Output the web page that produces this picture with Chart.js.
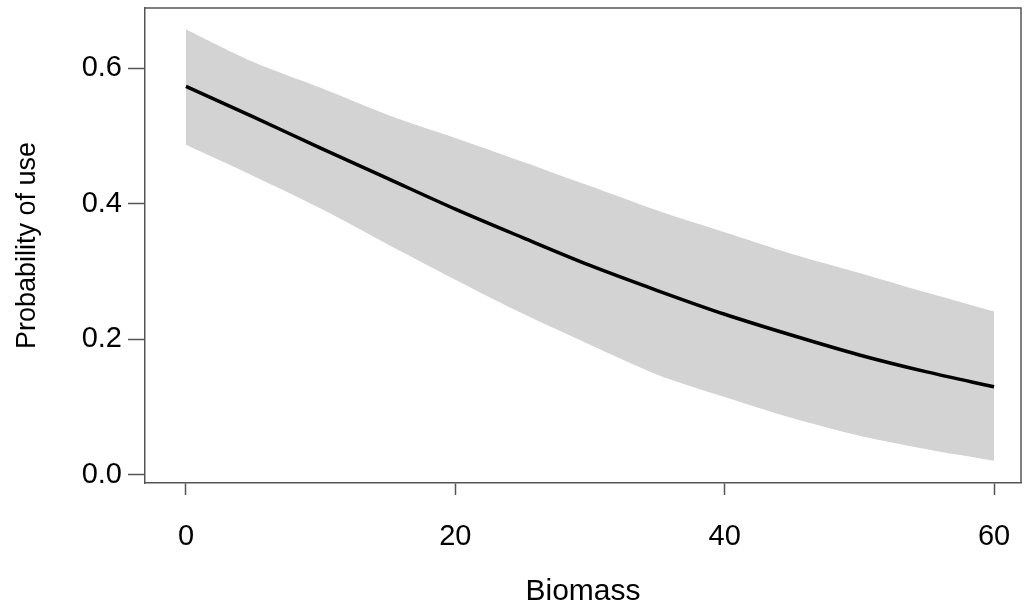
<!DOCTYPE html>
<html>
<head>
<meta charset="utf-8">
<script src="https://cdn.jsdelivr.net/npm/chart.js@4.4.1/dist/chart.umd.min.js"></script>
<style>
  html, body { margin: 0; padding: 0; background: #fff; }
  #wrap { width: 1027px; height: 610px; }
</style>
</head>
<body>
<div id="wrap"><canvas id="plot" width="1027" height="610"></canvas></div>
<script>
// values
const biomass = [0, 5, 10, 15, 20, 25, 30, 35, 40, 45, 50, 55, 60];
const fitted  = [0.573, 0.528, 0.482, 0.437, 0.392, 0.350, 0.309, 0.272, 0.237, 0.206, 0.177, 0.152, 0.130];
const upperCI = [0.657, 0.609, 0.571, 0.531, 0.497, 0.462, 0.426, 0.390, 0.358, 0.326, 0.298, 0.269, 0.241];
const lowerCI = [0.487, 0.441, 0.393, 0.340, 0.288, 0.238, 0.192, 0.148, 0.115, 0.084, 0.058, 0.038, 0.021];
const xTicks = [0, 20, 40, 60];
const yTicks = [0.0, 0.2, 0.4, 0.6];

const pts = (ys) => biomass.map((x, i) => ({ x: x, y: ys[i] }));

const fontFamily = "'Liberation Sans', Arial, sans-serif";
const axisColor = "#555";

// draws the top and right sides of the box
const boxPlugin = {
  id: "box",
  afterDraw(chart) {
    const a = chart.chartArea;
    const ctx = chart.ctx;
    ctx.save();
    ctx.strokeStyle = axisColor;
    ctx.lineWidth = 1.5;
    ctx.beginPath();
    ctx.moveTo(a.left, a.top);
    ctx.lineTo(a.right, a.top);
    ctx.lineTo(a.right, a.bottom);
    ctx.stroke();
    ctx.restore();
  },
};

// no extra room for edge labels, the box is fixed by layout padding
const noEdgePadding = (s) => {
  s.paddingTop = 0;
  s.paddingBottom = 0;
  s.paddingLeft = 0;
  s.paddingRight = 0;
};

new Chart(document.getElementById("plot").getContext("2d"), {
  type: "line",
  data: {
    datasets: [
      {
        label: "lower",
        data: pts(lowerCI),
        borderWidth: 0,
        pointRadius: 0,
        fill: false,
        order: 1,
        tension: 0.3,
      },
      {
        label: "upper",
        data: pts(upperCI),
        borderWidth: 0,
        pointRadius: 0,
        backgroundColor: "#d3d3d3",
        fill: "-1",
        order: 1,
        tension: 0.3,
      },
      {
        label: "fitted",
        data: pts(fitted),
        borderColor: "#000",
        borderWidth: 3.5,
        pointRadius: 0,
        fill: false,
        order: 0,
        tension: 0.3,
      },
    ],
  },
  options: {
    responsive: false,
    animation: false,
    layout: { padding: { top: 8, right: 6, left: 0, bottom: 0 } },
    plugins: {
      legend: { display: false },
      tooltip: { enabled: false },
    },
    scales: {
      x: {
        type: "linear",
        min: -3.04,
        max: 62.0,
        afterBuildTicks: (s) => { s.ticks = xTicks.map((v) => ({ value: v })); },
        afterFit: (s) => { s.height = 127; noEdgePadding(s); },
        grid: { drawOnChartArea: false, drawTicks: true, tickLength: 12, tickColor: axisColor, tickWidth: 1.5 },
        border: { display: true, color: axisColor, width: 1.5 },
        ticks: {
          color: "#000",
          padding: 25,
          maxRotation: 0,
          font: { family: fontFamily, size: 29 },
        },
        title: {
          display: true,
          text: "Biomass",
          color: "#000",
          padding: { top: 0, bottom: 0 },
          font: { family: fontFamily, size: 30 },
        },
      },
      y: {
        type: "linear",
        min: -0.0118,
        max: 0.6886,
        afterBuildTicks: (s) => { s.ticks = yTicks.map((v) => ({ value: v })); },
        afterFit: (s) => { s.width = 145; noEdgePadding(s); },
        grid: { drawOnChartArea: false, drawTicks: true, tickLength: 17, tickColor: axisColor, tickWidth: 1.5 },
        border: { display: true, color: axisColor, width: 1.5 },
        ticks: {
          color: "#000",
          padding: 6,
          callback: (v) => v.toFixed(1),
          font: { family: fontFamily, size: 29 },
        },
        title: {
          display: true,
          text: "Probability of use",
          color: "#000",
          padding: { top: 11, bottom: 0 },
          font: { family: fontFamily, size: 27 },
        },
      },
    },
  },
  plugins: [boxPlugin],
});
</script>
</body>
</html>
